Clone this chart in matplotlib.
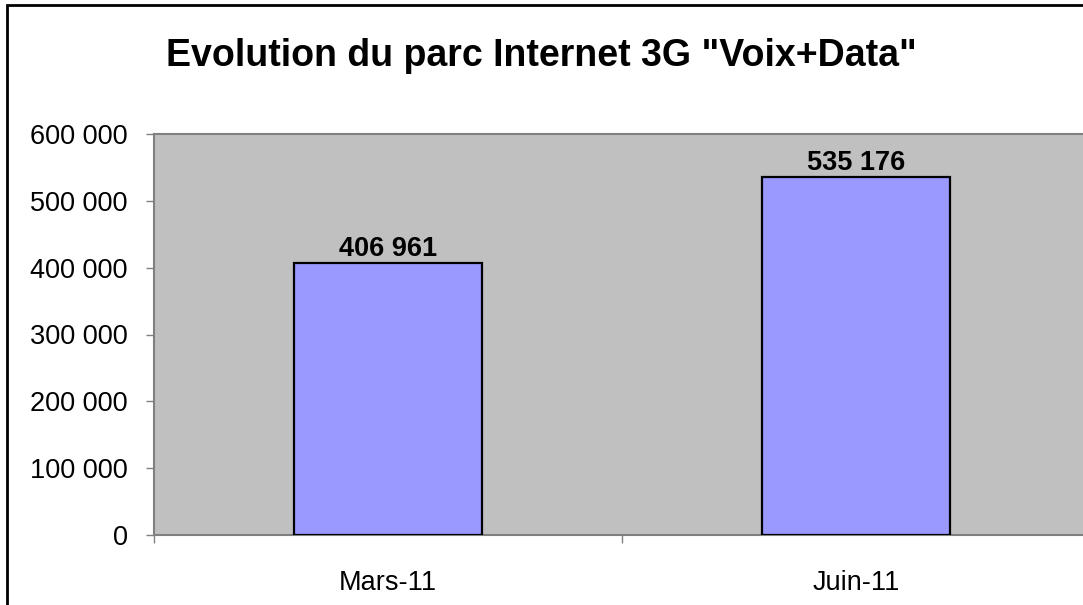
import matplotlib
matplotlib.use("Agg")
import matplotlib.pyplot as plt
from matplotlib.ticker import FuncFormatter, FixedLocator, NullFormatter
from matplotlib.patches import Rectangle

categories = ["Mars-11", "Juin-11"]
values = [406961, 535176]
title = 'Evolution du parc Internet 3G "Voix+Data"'
yticks = [0, 100000, 200000, 300000, 400000, 500000, 600000]

plt.rcParams['font.family'] = ['Liberation Sans', 'DejaVu Sans']

W, H = 1083, 605
fig = plt.figure(figsize=(W / 100, H / 100), dpi=100)
fig.patch.set_facecolor('white')

# outer chart border (partly cut by image edges)
fig.add_artist(Rectangle((7 / W, -0.05), 1.2, (605 - 5) / H + 0.05,
                         transform=fig.transFigure, fill=False,
                         edgecolor='black', linewidth=2.0, zorder=10))

ax = fig.add_axes([154 / W, (H - 535) / H, 936 / W, 401 / H])
ax.set_facecolor('#C0C0C0')

x = list(range(len(categories)))
bars = ax.bar(x, values, width=0.4, color='#9999FF', edgecolor='black',
              linewidth=1.6, zorder=3)

ax.set_xlim(-0.5, len(categories) - 0.5)
ax.set_ylim(0, 600000)

fmt = lambda v: f"{int(round(v)):,}".replace(",", " ")
ax.yaxis.set_major_locator(FixedLocator(yticks))
ax.yaxis.set_major_formatter(FuncFormatter(lambda v, p: fmt(v)))

# x ticks at category boundaries, labels at centers
ax.xaxis.set_major_locator(FixedLocator([i - 0.5 for i in range(len(categories) + 1)]))
ax.xaxis.set_major_formatter(NullFormatter())
ax.xaxis.set_minor_locator(FixedLocator(x))
ax.set_xticklabels(categories, minor=True)
ax.tick_params(axis='x', which='minor', length=0, pad=25, labelsize=19.5)
ax.tick_params(axis='x', which='major', direction='out', length=6, width=1,
               color='#808080')
ax.tick_params(axis='y', direction='out', length=6, width=1, color='#808080',
               pad=13, labelsize=19.5)

for s in ax.spines.values():
    s.set_color('#808080')
    s.set_linewidth(1.5)

for xi, v in zip(x, values):
    ax.annotate(fmt(v), (xi, v), xytext=(0, 5), textcoords='offset points',
                ha='center', va='baseline', fontsize=19.5, fontweight='bold',
                zorder=5)

fig.text(0.5, (H - 66) / H, title, ha='center', va='baseline',
         fontsize=27, fontweight='bold')

fig.savefig('out.png', dpi=100)
